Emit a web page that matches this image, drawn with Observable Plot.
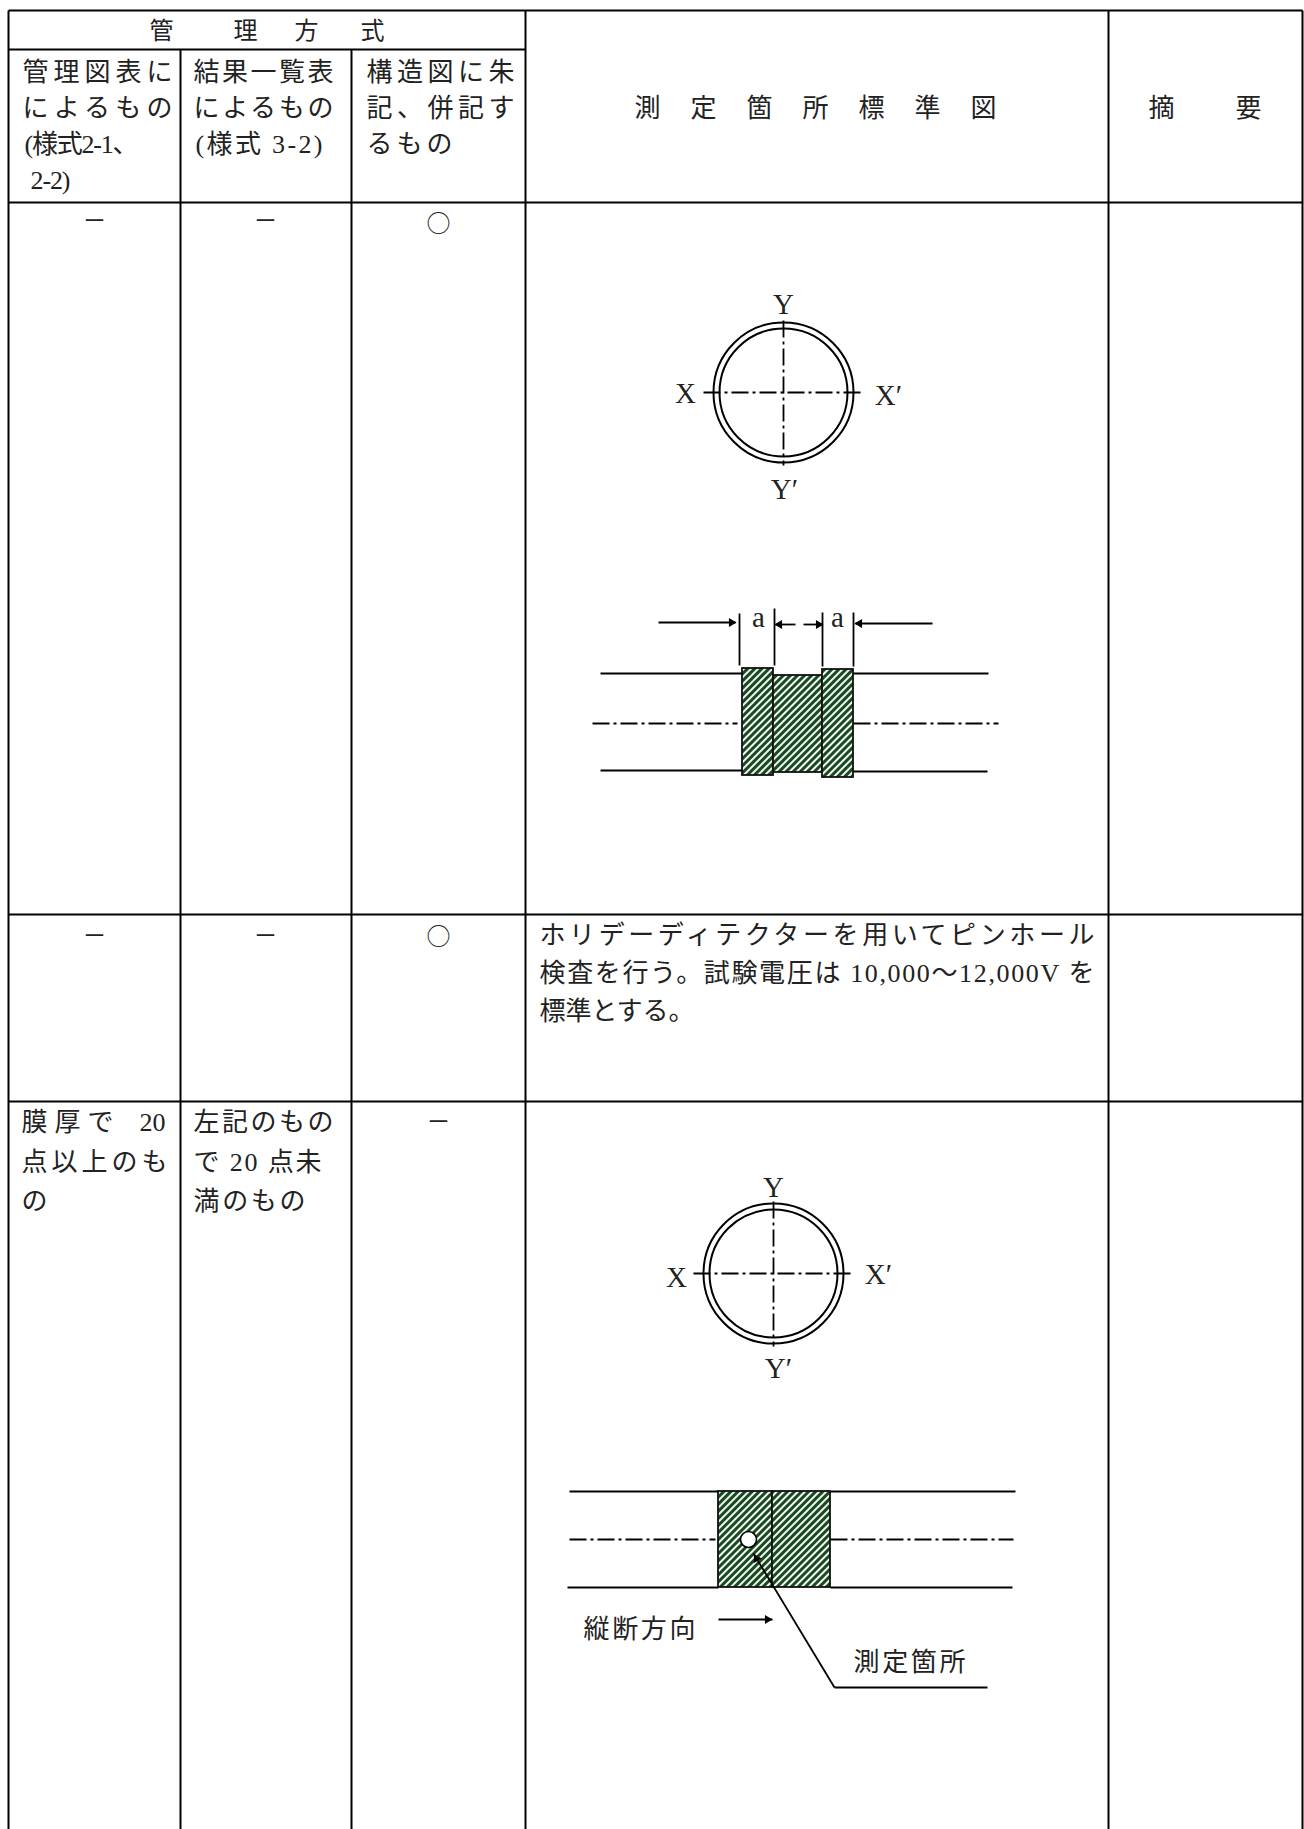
<!DOCTYPE html>
<html lang="ja">
<head>
<meta charset="utf-8">
<style>html,body{margin:0;padding:0;background:#fff}svg{display:block}</style>
<script src="https://cdn.jsdelivr.net/npm/d3@7"></script>
<script src="https://cdn.jsdelivr.net/npm/@observablehq/plot@0.6"></script>
</head>
<body>
<div id="chart"></div>
<script>
// Table grid, in reference pixels [x1, y1, x2, y2]
const tableRules = [
  [8,10,1302,10],[8,49,525,49],[8,202,1302,202],[8,914,1302,914],[8,1101,1302,1101],
  [8,10,8,1829],[180,49,180,1829],[351,49,351,1829],[525,10,525,1829],[1108,10,1108,1829],[1302,10,1302,1829]
];
// Body text: one entry per written line
const lineText = [
  "管理図表に","によるもの","(様式2-1、","2-2)",
  "結果一覧表","によるもの","(様式 3-2)",
  "構造図に朱","記、併記す","るもの",
  "測 定 箇 所 標 準 図","摘","要",
  "ホリデーディテクターを用いてピンホール","検査を行う。試験電圧は 10,000～12,000V を","標準とする。",
  "膜厚で","20","点以上のも","の",
  "左記のもの","で 20 点未","満のもの",
  "縦断方向","測定箇所"
];
const lineX = [22,22,24,30, 193,193,195, 366,366,366, 634,1148,1235, 539,539,539, 21,139,21,21, 193,193,193, 583,853];
const lineY = [72,108,144,180, 72,108,144, 72,108,144, 108,108,108, 935,973,1011, 1122,1122,1162,1201, 1122,1162,1201, 1629,1662];
const lineW = [150,150,114,40, 140,140,127, 148,148,86, 362,26,26, 555,555,155, 92,26,146,26, 140,128,112, 112,112];
// Single centred marks: header, not-applicable dash, circle
const markText = ["管","理","方","式","－","－","○","－","－","○","－"];
const markX = [161,245,306,372, 94,265,438, 94,265,438, 438];
const markY = [31,31,31,31, 221,221,224, 936,936,937, 1122];
// Latin diagram labels
const labelText = ["Y","X","X′","Y′","a","a","Y","X","X′","Y′"];
const labelX = [783,685,888,784,758,837, 773,676,878,778];
const labelY = [304,393,395,489,617,617, 1187,1277,1274,1368];
// Pipe cross-sections: centres and ring radii
const ringX = [783,773];
const ringY = [392,1273];
const ringRadii = [70,64];
// Coated sections, [x1, y1, x2, y2]
const coated = [[742,668,773,775],[773,675,822,772],[822,669,853,777],[718,1491,772,1587],[772,1491,830,1587]];
// Solid lines
const solidLines = [
  [600,673,742,673],[853,673,988,673],[600,770,742,770],[853,771,987,771],
  [739,613,739,665],[774,608,774,665],[822,612,822,666],[853,612,853,666],
  [658,622,735,622],[932,623,855,623],[775,624,795,624],[803,624,822,624],
  [569,1491,718,1491],[830,1491,1015,1491],[567,1587,718,1587],[830,1587,1012,1587],
  [718,1619,772,1619],[753,1553,834,1687],[834,1687,987,1687]
];
// Centre lines
const centreLines = [
  [703,392,863,392],[783,320,783,465],
  [592,723,737,723],[853,723,998,723],
  [693,1273,853,1273],[773,1201,773,1346],
  [569,1539,715,1539],[830,1539,1013,1539]
];
// Arrow heads
const headX = [731,859,779,818,767,756];
const headY = [622,623,624,624,1619,1558];
const headAngle = [90,-90,-90,90,90,-30];
// Measuring point
const holeX = [748], holeY = [1539], holeR = 8;

const link = (rows, o) => Plot.link(rows, {x1: d => d[0], y1: d => d[1], x2: d => d[2], y2: d => d[3], ...o});
const serifCJK = "'Liberation Serif','Noto Sans CJK JP',serif";
const index = a => a.map((_, i) => i);

const hatchDefs = () => {
  const defs = d3.create("svg:defs");
  const p = defs.append("pattern").attr("id", "coat").attr("patternUnits", "userSpaceOnUse")
    .attr("width", 5).attr("height", 5).attr("patternTransform", "rotate(45)");
  p.append("rect").attr("width", 5).attr("height", 5).attr("fill", "#f4f8f2");
  p.append("rect").attr("width", 3).attr("height", 5).attr("fill", "#1a4a22");
  return defs.node();
};

const chart = Plot.plot({
  width: 1304,
  height: 1829,
  margin: 0,
  x: {domain: [0, 1304], range: [0, 1304], axis: null},
  y: {domain: [0, 1829], range: [0, 1829], axis: null},
  style: {background: "#fff"},
  marks: [
    hatchDefs,
    Plot.rect(coated, {x1: d => d[0], y1: d => d[1], x2: d => d[2], y2: d => d[3], fill: "url(#coat)", stroke: "#111", strokeWidth: 1.8}),
    link(tableRules, {stroke: "#000", strokeWidth: 2}),
    link(solidLines, {stroke: "#000", strokeWidth: 1.8}),
    link(centreLines, {stroke: "#000", strokeWidth: 1.8, strokeDasharray: "17,4,3,4"}),
    ...ringRadii.map(r => Plot.dot(index(ringX), {x: i => ringX[i], y: i => ringY[i], r, stroke: "#000", strokeWidth: 2, fill: "none"})),
    Plot.dot(index(holeX), {x: i => holeX[i], y: i => holeY[i], r: holeR, stroke: "#000", strokeWidth: 1.6, fill: "#fff"}),
    Plot.dot(index(headX), {x: i => headX[i], y: i => headY[i], rotate: i => headAngle[i], symbol: "triangle2", r: 4.2, fill: "#000", stroke: "none"}),
    Plot.text(index(lineText), {
      x: i => lineX[i], y: i => lineY[i], text: i => lineText[i],
      textAnchor: "start", fontSize: 26, fontFamily: serifCJK, fill: "#222",
      render(idx, scales, values, dims, ctx, next) {
        const g = next(idx, scales, values, dims, ctx);
        d3.select(g).selectAll("text").attr("textLength", i => lineW[i]).attr("lengthAdjust", "spacing");
        return g;
      }
    }),
    Plot.text(index(markText), {x: i => markX[i], y: i => markY[i], text: i => markText[i], fontSize: 24, fontFamily: "'Noto Sans CJK JP',sans-serif", fill: "#222"}),
    Plot.text(index(labelText), {x: i => labelX[i], y: i => labelY[i], text: i => labelText[i], fontSize: 29, fontFamily: "'Liberation Serif',serif", fill: "#222"})
  ]
});
document.getElementById("chart").append(chart);
</script>
</body>
</html>
